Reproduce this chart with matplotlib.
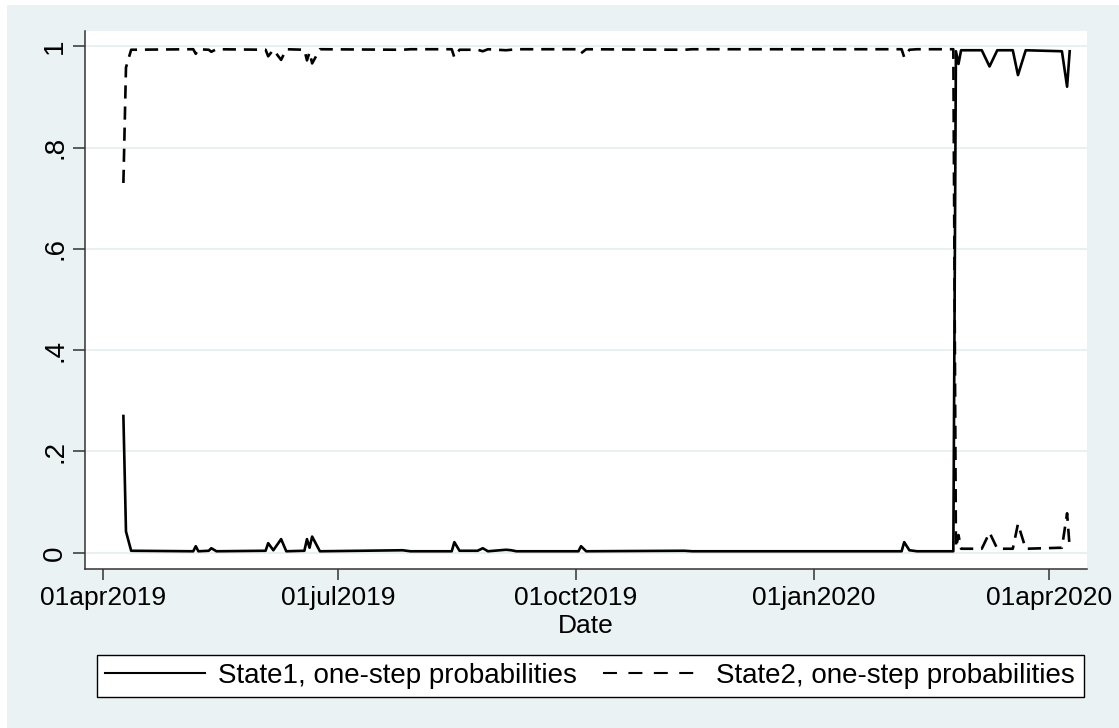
import matplotlib
matplotlib.use('Agg')
import matplotlib.pyplot as plt
from matplotlib.lines import Line2D
from matplotlib.patches import Rectangle
import pandas as pd

plt.rcParams['font.family'] = ['Liberation Sans', 'DejaVu Sans']

# ---- data ----
dates = [
    '2019-04-09', '2019-04-10', '2019-04-12', '2019-05-06', '2019-05-07', '2019-05-08',
    '2019-05-12', '2019-05-13', '2019-05-15', '2019-06-03', '2019-06-04', '2019-06-06',
    '2019-06-09', '2019-06-11', '2019-06-18', '2019-06-19', '2019-06-20', '2019-06-21',
    '2019-06-24', '2019-07-26', '2019-07-29', '2019-08-14', '2019-08-15', '2019-08-17',
    '2019-08-24', '2019-08-26', '2019-08-28', '2019-09-04', '2019-09-06', '2019-09-08',
    '2019-10-02', '2019-10-03', '2019-10-05', '2019-11-12', '2019-11-15', '2020-02-04',
    '2020-02-05', '2020-02-07', '2020-02-10', '2020-02-24', '2020-02-25', '2020-02-26',
    '2020-02-27', '2020-03-06', '2020-03-09', '2020-03-12', '2020-03-18', '2020-03-20',
    '2020-03-23', '2020-04-06', '2020-04-08', '2020-04-09',
]
state1 = [
    0.270, 0.042, 0.004, 0.003, 0.013, 0.003,
    0.004, 0.009, 0.003, 0.004, 0.019, 0.005,
    0.027, 0.003, 0.004, 0.027, 0.010, 0.032,
    0.003, 0.005, 0.003, 0.003, 0.021, 0.004,
    0.004, 0.009, 0.003, 0.006, 0.005, 0.003,
    0.003, 0.013, 0.003, 0.004, 0.003, 0.003,
    0.021, 0.005, 0.003, 0.003, 0.990, 0.965,
    0.992, 0.992, 0.960, 0.992, 0.992, 0.943,
    0.992, 0.990, 0.920, 0.990,
]
state2 = [
    0.730, 0.958, 0.993, 0.994, 0.985, 0.994,
    0.993, 0.989, 0.994, 0.993, 0.980, 0.993,
    0.973, 0.994, 0.993, 0.972, 0.988, 0.966,
    0.994, 0.993, 0.994, 0.994, 0.978, 0.993,
    0.993, 0.990, 0.994, 0.992, 0.993, 0.994,
    0.994, 0.986, 0.994, 0.993, 0.994, 0.994,
    0.978, 0.993, 0.994, 0.994, 0.010, 0.035,
    0.008, 0.008, 0.040, 0.008, 0.008, 0.057,
    0.008, 0.010, 0.078, 0.010,
]
xtick_dates = ['2019-04-01', '2019-07-01', '2019-10-01', '2020-01-01', '2020-04-01']
xtick_labels = ['01apr2019', '01jul2019', '01oct2019', '01jan2020', '01apr2020']
ytick_values = [0, 0.2, 0.4, 0.6, 0.8, 1.0]
ytick_labels = ['0', '.2', '.4', '.6', '.8', '1']
series_labels = ['State1, one-step probabilities', 'State2, one-step probabilities']

W, H = 1119, 728
BG = '#eaf2f3'

fig = plt.figure(figsize=(W / 100, H / 100), dpi=100)
fig.patch.set_facecolor(BG)
fig.add_artist(Rectangle((0, 1 - 5 / H), 1, 5 / H, transform=fig.transFigure,
                         facecolor='white', edgecolor='none', zorder=0))
fig.add_artist(Rectangle((0, 0), 7 / W, 1, transform=fig.transFigure,
                         facecolor='white', edgecolor='none', zorder=0))

ax = fig.add_axes([85 / W, 1 - 569 / H, 1002 / W, 538 / H])
ax.set_facecolor('white')

x = pd.to_datetime(dates)
ax.plot(x, state1, color='black', lw=1.9, zorder=3)
ax.plot(x, state2, color='black', lw=1.9, dashes=(5.0, 3.0), zorder=3)

ax.set_xlim(pd.Timestamp('2019-04-01') - pd.Timedelta(days=6.85),
            pd.Timestamp('2020-04-01') + pd.Timedelta(days=14.7))
ax.set_ylim(-0.032, 1.030)

ax.set_xticks(pd.to_datetime(xtick_dates))
ax.set_xticklabels(xtick_labels, fontsize=19)
ax.set_yticks(ytick_values)
ax.set_yticklabels(ytick_labels, fontsize=20, rotation=90, va='center')

ax.grid(axis='y', color='#e6edef', lw=1.2, zorder=0)
ax.grid(axis='x', visible=False)
for s in ['top', 'right']:
    ax.spines[s].set_visible(False)
for s in ['left', 'bottom']:
    ax.spines[s].set_color('#333333')
    ax.spines[s].set_linewidth(1.1)
ax.tick_params(axis='y', length=8.6, width=1.1, color='#333333', pad=3.6)
ax.tick_params(axis='x', length=8, width=1.1, color='#333333', pad=4.5)

ax.set_xlabel('Date', fontsize=19)
ax.xaxis.set_label_coords(0.5, -0.084)

handles = [Line2D([], [], color='black', lw=1.5),
           Line2D([], [], color='black', lw=1.5, dashes=(6.7, 5.5))]
leg = fig.legend(handles, series_labels, loc='center left',
                 bbox_to_anchor=(97 / W, 1 - 676 / H), ncol=2, frameon=True,
                 fancybox=False, edgecolor='black', facecolor='white', framealpha=1,
                 fontsize=20, handlelength=3.6, handletextpad=0.47,
                 columnspacing=0.94, borderpad=0.3, borderaxespad=0)
leg.get_frame().set_linewidth(1.0)

fig.savefig('out.png', dpi=100, facecolor=fig.get_facecolor())
